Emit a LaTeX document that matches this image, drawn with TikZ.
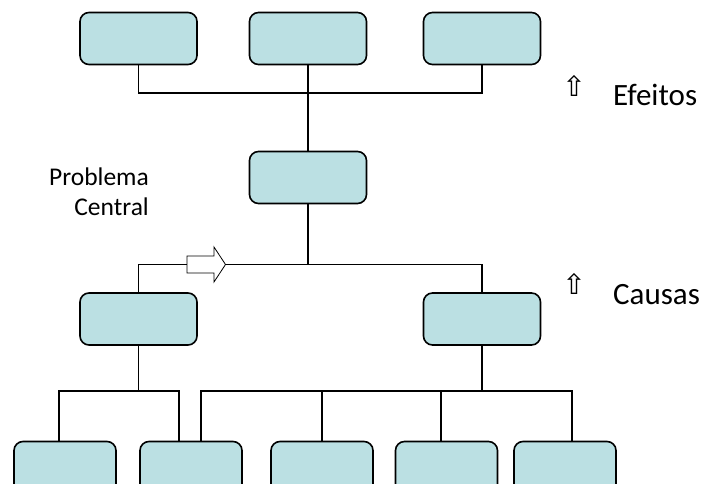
\documentclass[tikz,border=0pt]{standalone}
\usepackage{fontspec}
\setmainfont{Carlito}
\newfontfamily\simbolos{DejaVu Sans}
\usetikzlibrary{positioning,calc}
\definecolor{caixa}{RGB}{187,224,227}
\tikzset{
    bloco/.style={
        rectangle,
        draw,
        rounded corners=9pt,
        line width=1.6pt,
        fill=caixa,
        minimum width=117pt,
        minimum height=52pt,
        inner sep=0pt
    },
    ligacao/.style={line width=1.6pt},
    rotulo/.style={font=\fontsize{31}{36}\selectfont, anchor=base west, inner sep=0pt},
    setinha/.style={font=\simbolos\fontsize{28}{30}\selectfont, inner sep=0pt}
}

\begin{document}
\begin{tikzpicture}[x=1pt,y=-1pt]
        \useasboundingbox (0,0) rectangle (705,484);

        % Caixas dos efeitos, do problema e das causas
        \foreach \n/\x in {1/138.5, 2/308, 3/482}
            \node[bloco] (efeito\n) at (\x,38.5) {};
        \node[bloco] (problema) at (308,177.5) {};
        \node[bloco] (causa1) at (138.5,319) {};
        \node[bloco] (causa2) at (482,319) {};
        \foreach \n/\x in {1/65, 2/191, 3/322, 4/446.5, 5/565}
            \node[bloco, minimum width=102pt] (sub\n) at (\x,467.5) {};

        % Barras horizontais
        \coordinate (barraE) at (0,93);
        \coordinate (barraC) at (0,264.5);
        \coordinate (barraS) at (0,391);

        % Ligacoes
        \draw[ligacao] (efeito1.south) |- (efeito3.south |- barraE) -- (efeito3.south);
        \draw[ligacao] (efeito2.south) -- (problema.north);
        \draw[ligacao] (causa1.north) |- (causa2.north |- barraC) -- (causa2.north);
        \draw[ligacao] (problema.south) -- (problema.south |- barraC);
        \draw[ligacao] (causa1.south) -- (causa1.south |- barraS);
        \draw[ligacao] ([xshift=-6pt]sub1.north) |- ([xshift=-12pt]sub2.north |- barraS) -- ([xshift=-12pt]sub2.north);
        \draw[ligacao] (causa2.south) -- (causa2.south |- barraS);
        \draw[ligacao] ([xshift=10pt]sub2.north) |- ([xshift=7pt]sub5.north |- barraS) -- ([xshift=7pt]sub5.north);
        \draw[ligacao] (sub3.north) -- (sub3.north |- barraS);
        \draw[ligacao] ([xshift=-5.5pt]sub4.north) -- ([xshift=-5.5pt]sub4.north |- barraS);

        % Seta vazada sobre a barra das causas
        \filldraw[fill=white, line width=0.8pt] (187,256) -- (214,256) -- (214,247) -- (225.5,264.5)
            -- (214,282) -- (214,273) -- (187,273) -- cycle;

        % Textos
        \node[font=\fontsize{25.5}{30}\selectfont, align=right, anchor=north east, inner sep=0pt]
            (rotuloproblema) at (149,168) {Problema\\Central};
        \node[setinha] (setaE) at (574,86) {⇧};
        \node[rotulo] (efeitos) at (613,106) {Efeitos};
        \node[setinha] (setaC) at (574,284) {⇧};
        \node[rotulo] (causas) at (613,304) {Causas};
\end{tikzpicture}
\end{document}
